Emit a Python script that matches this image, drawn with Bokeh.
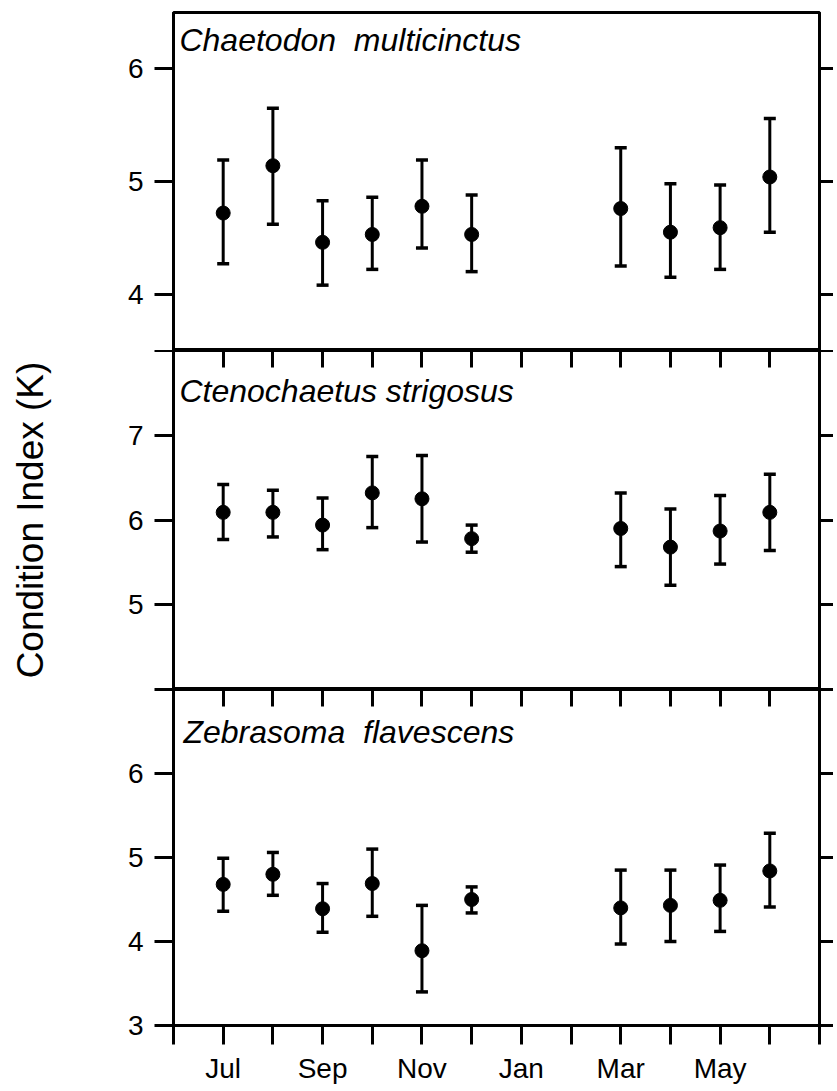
from bokeh.plotting import figure
from bokeh.models import (Range1d, FixedTicker, LinearAxis, Whisker, TeeHead,
                          ColumnDataSource, Label)
from bokeh.layouts import column
from bokeh.embed import file_html
from bokeh.resources import INLINE

# months counted from June (0) of the first year to July (13) of the next
axis_ticks = list(range(14))
axis_labels = {1: "Jul", 3: "Sep", 5: "Nov", 7: "Jan", 9: "Mar", 11: "May"}
sample_months = ["Jul", "Aug", "Sep", "Oct", "Nov", "Dec", "Mar", "Apr", "May", "Jun"]
sample_x = [1, 2, 3, 4, 5, 6, 9, 10, 11, 12]

chaetodon_mean = [4.72, 5.14, 4.46, 4.53, 4.78, 4.53, 4.76, 4.55, 4.59, 5.04]
chaetodon_upper = [5.19, 5.65, 4.83, 4.86, 5.19, 4.88, 5.30, 4.98, 4.97, 5.56]
chaetodon_lower = [4.27, 4.62, 4.08, 4.22, 4.41, 4.20, 4.25, 4.15, 4.22, 4.55]

cteno_mean = [6.09, 6.09, 5.94, 6.32, 6.25, 5.78, 5.90, 5.68, 5.87, 6.09]
cteno_upper = [6.42, 6.35, 6.26, 6.75, 6.76, 5.94, 6.32, 6.13, 6.29, 6.54]
cteno_lower = [5.77, 5.80, 5.65, 5.91, 5.74, 5.62, 5.45, 5.23, 5.48, 5.64]

zebra_mean = [4.68, 4.80, 4.39, 4.69, 3.89, 4.50, 4.40, 4.43, 4.49, 4.84]
zebra_upper = [4.99, 5.06, 4.69, 5.10, 4.43, 4.65, 4.85, 4.85, 4.91, 5.29]
zebra_lower = [4.36, 4.55, 4.11, 4.30, 3.40, 4.34, 3.97, 4.00, 4.12, 4.41]

FONT = "Liberation Sans"
W = 833
LEFT = 173


def make_panel(name, mean, upper, lower, yrange, yticks, ylabels, height,
               border_top, border_bottom, top_ticks, bottom_axis,
               name_x, name_y, ytitle=None):
    p = figure(width=W, height=height, output_backend="svg", toolbar_location=None,
               x_range=Range1d(0, 13), y_range=Range1d(*yrange),
               x_axis_location=None, y_axis_location=None,
               min_border_left=LEFT, min_border_right=0,
               min_border_top=border_top, min_border_bottom=border_bottom)
    p.xgrid.visible = False
    p.ygrid.visible = False
    p.outline_line_color = "black"
    p.outline_line_width = 3
    p.background_fill_color = "white"
    p.border_fill_color = "white"

    src = ColumnDataSource(dict(x=sample_x, mean=mean, upper=upper, lower=lower,
                                month=sample_months))
    w = Whisker(base="x", upper="upper", lower="lower", source=src,
                line_width=3, line_color="black",
                upper_head=TeeHead(size=12, line_width=3.5, line_color="black"),
                lower_head=TeeHead(size=12, line_width=3.5, line_color="black"))
    p.add_layout(w)
    p.scatter("x", "mean", source=src, size=14, color="black")

    ly = LinearAxis(ticker=FixedTicker(ticks=yticks),
                    major_label_overrides={t: l for t, l in zip(yticks, ylabels)},
                    major_tick_out=19, major_tick_in=0, major_tick_line_width=3,
                    minor_tick_out=0, minor_tick_in=0,
                    axis_line_width=3, major_label_standoff=11,
                    major_label_text_font=FONT, major_label_text_font_size="28px",
                    major_label_text_color="black")
    if ytitle:
        ly.axis_label = ytitle
        ly.axis_label_text_font = FONT
        ly.axis_label_text_font_size = "37px"
        ly.axis_label_text_font_style = "normal"
        ly.axis_label_text_color = "black"
        ly.axis_label_standoff = 74
    p.add_layout(ly, "left")

    ry = LinearAxis(ticker=FixedTicker(ticks=yticks),
                    major_label_overrides={t: "" for t in yticks},
                    major_tick_out=14, major_tick_in=0, major_tick_line_width=3,
                    minor_tick_out=0, minor_tick_in=0,
                    axis_line_width=3, major_label_standoff=0,
                    major_label_text_font_size="0px")
    p.add_layout(ry, "right")

    if top_ticks:
        tx = LinearAxis(ticker=FixedTicker(ticks=axis_ticks),
                        major_label_overrides={t: "" for t in axis_ticks},
                        major_tick_out=0, major_tick_in=17, major_tick_line_width=3,
                        minor_tick_out=0, minor_tick_in=0,
                        axis_line_width=3, major_label_standoff=0,
                        major_label_text_font_size="0px")
        p.add_layout(tx, "above")
    if bottom_axis:
        bx = LinearAxis(ticker=FixedTicker(ticks=axis_ticks),
                        major_label_overrides={t: axis_labels.get(t, "") for t in axis_ticks},
                        major_tick_out=19, major_tick_in=0, major_tick_line_width=3,
                        minor_tick_out=0, minor_tick_in=0,
                        axis_line_width=3, major_label_standoff=8,
                        major_label_text_font=FONT, major_label_text_font_size="28px",
                        major_label_text_color="black")
        p.add_layout(bx, "below")

    p.add_layout(Label(x=name_x, y=name_y, text=name, text_font=FONT,
                       text_font_size="32px", text_font_style="italic",
                       text_color="black", text_baseline="alphabetic"))
    return p


p1 = make_panel("Chaetodon\u00a0 multicinctus", chaetodon_mean, chaetodon_upper, chaetodon_lower,
                (3.5, 6.5), [4, 5, 6], ["4", "5", "6"], 350, 12, 0, False, False,
                0.12, 6.26)
p2 = make_panel("Ctenochaetus strigosus", cteno_mean, cteno_upper, cteno_lower,
                (4, 8), [4, 5, 6, 7, 8], ["", "5", "6", "7", ""], 339, 0, 0, True, False,
                0.12, 7.52, ytitle="Condition Index (K)")
p3 = make_panel("Zebrasoma\u00a0 flavescens", zebra_mean, zebra_upper, zebra_lower,
                (3, 7), [3, 4, 5, 6, 7], ["3", "4", "5", "6", ""], 397, 0, 60, True, True,
                0.2, 6.50)

layout = column(p1, p2, p3, spacing=0)
open("out.html", "w").write(file_html(layout, INLINE))
